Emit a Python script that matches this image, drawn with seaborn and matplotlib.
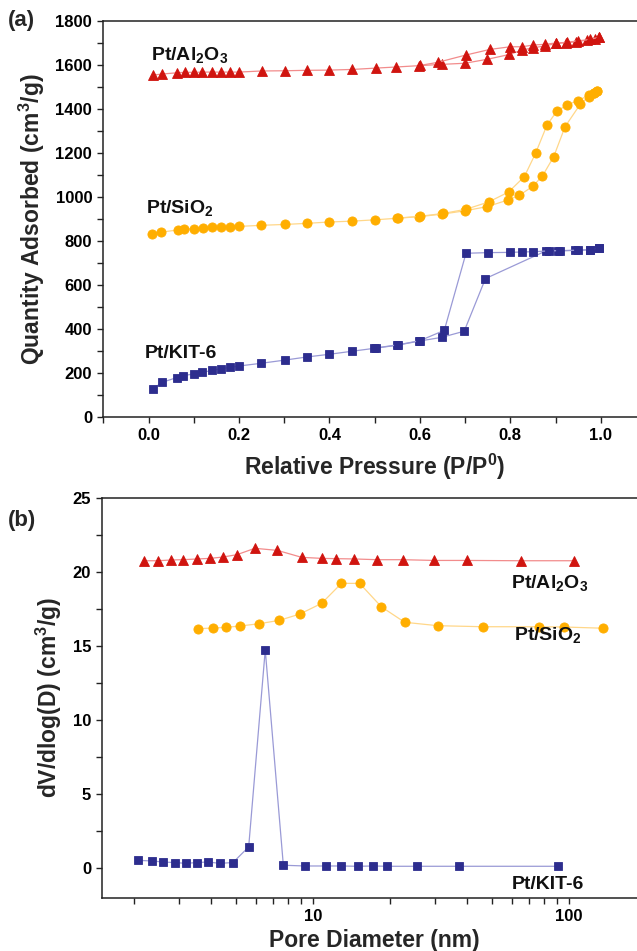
import numpy as np
import pandas as pd
import matplotlib
matplotlib.use("Agg")
import matplotlib.pyplot as plt
import seaborn as sns
from matplotlib.ticker import MultipleLocator, FixedLocator, LogLocator, NullFormatter, FuncFormatter

# ---------------- data: (a) N2 isotherms ----------------
al_ads_p = [0.009, 0.029, 0.064, 0.080, 0.100, 0.119, 0.140, 0.161, 0.181, 0.200, 0.250, 0.301, 0.350, 0.400,
            0.451, 0.502, 0.547, 0.597, 0.648, 0.699, 0.749, 0.798, 0.826, 0.851, 0.876, 0.900, 0.923, 0.946,
            0.969, 0.988, 0.995]
al_ads_q = [1554, 1559, 1565, 1567, 1567, 1568, 1568, 1568, 1568, 1568, 1573, 1574, 1576, 1577,
            1580, 1586, 1591, 1597, 1603, 1608, 1626, 1648, 1668, 1679, 1686, 1698, 1701, 1706,
            1713, 1718, 1726]
al_des_p = [0.995, 0.976, 0.950, 0.925, 0.900, 0.876, 0.851, 0.826, 0.800, 0.755, 0.701, 0.639, 0.600]
al_des_q = [1726, 1716, 1710, 1703, 1700, 1694, 1691, 1683, 1683, 1671, 1645, 1612, 1598]

si_ads_p = [0.008, 0.028, 0.065, 0.078, 0.100, 0.120, 0.141, 0.161, 0.181, 0.200, 0.249, 0.302, 0.351, 0.399,
            0.451, 0.501, 0.549, 0.597, 0.650, 0.700, 0.749, 0.795, 0.820, 0.850, 0.871, 0.896, 0.921, 0.955,
            0.973, 0.984, 0.992]
si_ads_q = [832, 841, 851, 854, 857, 860, 863, 864, 866, 867, 872, 876, 881, 887,
            891, 897, 904, 911, 923, 938, 957, 987, 1008, 1050, 1096, 1184, 1320, 1423,
            1456, 1471, 1483]
si_des_p = [0.992, 0.984, 0.973, 0.949, 0.925, 0.903, 0.881, 0.856, 0.831, 0.796, 0.752, 0.702, 0.652, 0.600, 0.552]
si_des_q = [1483, 1474, 1462, 1438, 1418, 1391, 1327, 1200, 1093, 1023, 978, 945, 926, 913, 905]

kit_ads_p = [0.009, 0.030, 0.062, 0.076, 0.100, 0.119, 0.140, 0.161, 0.181, 0.200, 0.248, 0.302, 0.350, 0.399,
             0.450, 0.498, 0.549, 0.598, 0.648, 0.698, 0.745, 0.878, 0.906, 0.942, 0.976, 0.995]
kit_ads_q = [128, 159, 180, 189, 197, 204, 213, 221, 227, 233, 245, 260, 274, 286,
             300, 313, 327, 346, 363, 391, 630, 755, 756, 758, 760, 768]
kit_des_p = [0.995, 0.976, 0.950, 0.910, 0.886, 0.851, 0.826, 0.799, 0.751, 0.702, 0.654, 0.600, 0.551, 0.502]
kit_des_q = [768, 762, 759, 757, 756, 752, 751, 749, 748, 745, 395, 348, 329, 315]

# ---------------- data: (b) pore size distributions ----------------
al_d = [2.19, 2.47, 2.78, 3.10, 3.52, 3.96, 4.44, 5.04, 5.92, 7.25, 9.02, 10.8, 12.3, 14.5, 17.8, 22.4,
        29.8, 40.1, 64.7, 105.0]
al_v = [20.76, 20.76, 20.81, 20.83, 20.88, 20.92, 21.01, 21.17, 21.60, 21.46, 20.99, 20.92, 20.90, 20.88,
        20.83, 20.83, 20.78, 20.78, 20.76, 20.76]

si_d = [3.56, 4.06, 4.58, 5.18, 6.14, 7.38, 8.88, 10.8, 12.9, 15.2, 18.5, 22.8, 30.7, 46.1, 76.7, 96.0, 135.6]
si_v = [16.17, 16.21, 16.26, 16.35, 16.50, 16.73, 17.16, 17.88, 19.23, 19.23, 17.64, 16.60, 16.37, 16.30,
        16.30, 16.28, 16.20]

kit_d = [2.07, 2.34, 2.59, 2.88, 3.18, 3.51, 3.88, 4.31, 4.86, 5.60, 6.50, 7.65, 9.29, 11.2, 12.8, 15.0,
         17.2, 19.5, 25.4, 37.2, 90.7]
kit_v = [0.51, 0.47, 0.40, 0.36, 0.31, 0.36, 0.40, 0.31, 0.36, 1.42, 14.73, 0.18, 0.13, 0.13, 0.13, 0.11,
         0.13, 0.11, 0.11, 0.11, 0.11]

# ---------------- style ----------------
sns.set_theme(style="ticks")
plt.rcParams['font.family'] = ['Liberation Sans', 'DejaVu Sans']
plt.rcParams['font.weight'] = 'bold'
plt.rcParams['mathtext.fontset'] = 'custom'
plt.rcParams['mathtext.rm'] = 'Liberation Sans:bold'
plt.rcParams['mathtext.bf'] = 'Liberation Sans:bold'
plt.rcParams['mathtext.it'] = 'Liberation Sans:bold'
plt.rcParams['mathtext.default'] = 'bf'

RED, RED_L = '#D0140F', '#F28C8C'
ORG, ORG_L = '#FFAE00', '#FFD789'
NAV, NAV_L = '#2D2D8E', '#9A9AD6'

fig = plt.figure(figsize=(6.37, 9.51), dpi=100)
W, H = 637.0, 951.0
ax1 = fig.add_axes([103.3 / W, 1 - 417.3 / H, (646 - 103.3) / W, (417.3 - 21) / H])
ax2 = fig.add_axes([102.3 / W, 1 - 897.5 / H, (646 - 102.3) / W, (897.5 - 498) / H])


def branch(ax, x, y, lc, mc, marker, ms):
    df = pd.DataFrame({'x': x, 'y': y})
    sns.lineplot(data=df, x='x', y='y', ax=ax, sort=False, estimator=None, color=lc, lw=0.9,
                 marker=marker, markersize=ms, markerfacecolor=mc, markeredgecolor=mc,
                 markeredgewidth=0.6, legend=False)


# (a)
branch(ax1, al_ads_p, al_ads_q, RED_L, RED, '^', 7.2)
branch(ax1, al_des_p, al_des_q, RED_L, RED, '^', 7.2)
branch(ax1, si_ads_p, si_ads_q, ORG_L, ORG, 'o', 6.6)
branch(ax1, si_des_p, si_des_q, ORG_L, ORG, 'o', 6.6)
branch(ax1, kit_ads_p, kit_ads_q, NAV_L, NAV, 's', 5.8)
branch(ax1, kit_des_p, kit_des_q, NAV_L, NAV, 's', 5.8)

# (b)
branch(ax2, al_d, al_v, RED_L, RED, '^', 7.2)
branch(ax2, si_d, si_v, ORG_L, ORG, 'o', 6.6)
branch(ax2, kit_d, kit_v, NAV_L, NAV, 's', 5.8)

for ax in (ax1, ax2):
    for s in ('left', 'bottom', 'top'):
        ax.spines[s].set_linewidth(1.1)
        ax.spines[s].set_color('#222222')
    ax.spines['right'].set_visible(False)
    ax.tick_params(which='both', direction='out', length=4.5, width=1.0, colors='#222222',
                   labelsize=12, labelcolor='black', top=False, right=False)
    for lab in ax.get_xticklabels() + ax.get_yticklabels():
        lab.set_fontweight('bold')

ax1.set_xlim(-0.1, 1.1)
ax1.set_ylim(0, 1800)
ax1.xaxis.set_major_locator(FixedLocator([0.0, 0.2, 0.4, 0.6, 0.8, 1.0]))
ax1.xaxis.set_minor_locator(FixedLocator([-0.1, 0.1, 0.3, 0.5, 0.7, 0.9]))
ax1.xaxis.set_major_formatter(FuncFormatter(lambda v, p: f"{v:.1f}"))
ax1.yaxis.set_major_locator(MultipleLocator(200))
ax1.yaxis.set_minor_locator(MultipleLocator(100))
ax1.set_xlabel(r'Relative Pressure (P/P$^{0}$)', fontsize=16.5, fontweight='bold', labelpad=6)
ax1.set_ylabel(r'Quantity Adsorbed (cm$^{3}$/g)', fontsize=16.5, fontweight='bold', labelpad=6)

ax2.set_xscale('log')
ax2.set_xlim(1.5, 200)
ax2.set_ylim(-2, 25)
ax2.xaxis.set_major_locator(FixedLocator([10, 100]))
ax2.xaxis.set_minor_locator(LogLocator(base=10, subs=np.arange(2, 10)))
ax2.xaxis.set_minor_formatter(NullFormatter())
ax2.xaxis.set_major_formatter(FuncFormatter(lambda v, p: f"{v:.0f}"))
ax2.yaxis.set_major_locator(MultipleLocator(5))
ax2.yaxis.set_minor_locator(MultipleLocator(2.5))
ax2.set_xlabel('Pore Diameter (nm)', fontsize=16.5, fontweight='bold', labelpad=4)
ax2.set_ylabel(r'dV/dlog(D) (cm$^{3}$/g)', fontsize=16.5, fontweight='bold', labelpad=6)

for ax in (ax1, ax2):
    for lab in ax.get_xticklabels() + ax.get_yticklabels():
        lab.set_fontweight('bold')

# series labels
lab_kw = dict(fontsize=14, fontweight='bold', color='#111111')
ax1.text(0.005, 1622, r'Pt/Al$_{2}$O$_{3}$', **lab_kw)
ax1.text(-0.005, 928, r'Pt/SiO$_{2}$', **lab_kw)
ax1.text(-0.008, 269, 'Pt/KIT-6', **lab_kw)
ax2.text(59.6, 18.9, r'Pt/Al$_{2}$O$_{3}$', **lab_kw)
ax2.text(61.2, 15.4, r'Pt/SiO$_{2}$', **lab_kw)
ax2.text(59.6, -1.4, 'Pt/KIT-6', **lab_kw)

fig.text(8 / W, 1 - 26 / H, '(a)', fontsize=16, fontweight='bold')
fig.text(8 / W, 1 - 526 / H, '(b)', fontsize=16, fontweight='bold')

fig.savefig('out.png', dpi=100)
